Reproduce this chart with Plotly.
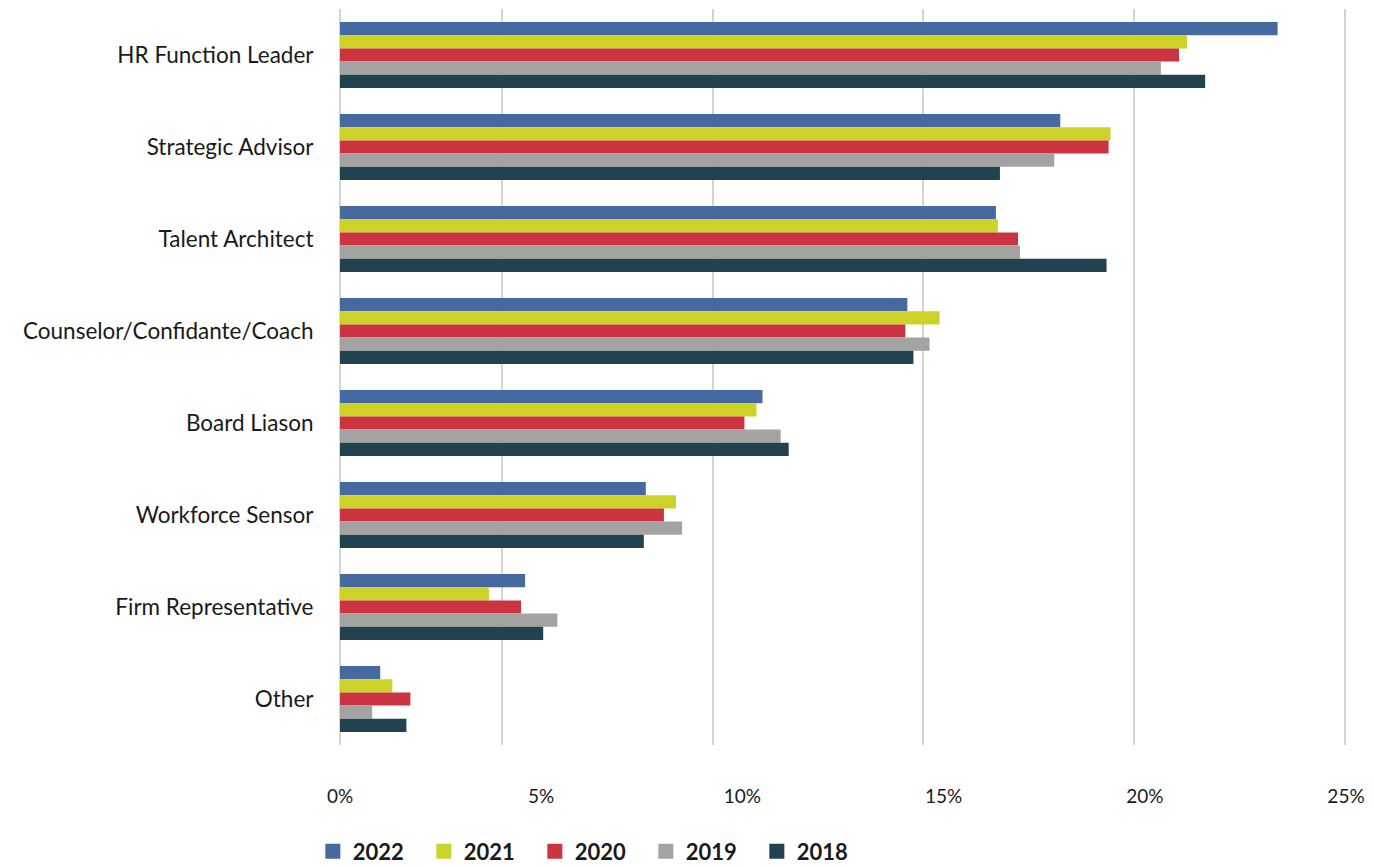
import plotly.graph_objects as go

# Roles of the HR leader, share of responses by survey year
roles = [
    "HR Function Leader",
    "Strategic Advisor",
    "Talent Architect",
    "Counselor/Confidante/Coach",
    "Board Liason",
    "Workforce Sensor",
    "Firm Representative",
    "Other",
]

years = ["2022", "2021", "2020", "2019", "2018"]

share_2022 = [23.3, 17.9, 16.3, 14.1, 10.5, 7.6, 4.6, 1.0]
share_2021 = [21.05, 19.15, 16.35, 14.9, 10.35, 8.35, 3.7, 1.3]
share_2020 = [20.85, 19.1, 16.85, 14.05, 10.05, 8.05, 4.5, 1.75]
share_2019 = [20.4, 17.75, 16.9, 14.65, 10.95, 8.5, 5.4, 0.8]
share_2018 = [21.5, 16.4, 19.05, 14.25, 11.15, 7.55, 5.05, 1.65]

x_tick_values = [0, 5, 10, 15, 20, 25]
x_tick_labels = ["0%", "5%", "10%", "15%", "20%", "25%"]

series = [share_2022, share_2021, share_2020, share_2019, share_2018]
colors = ["#46699f", "#ccd227", "#cd3442", "#a3a3a2", "#21424e"]

FONT = "Lato, 'Open Sans', sans-serif"

fig = go.Figure()
for year, values, color in zip(years, series, colors):
    fig.add_trace(
        go.Bar(
            y=roles,
            x=values,
            name=year,
            orientation="h",
            marker=dict(color=color, line=dict(width=0)),
            hoverinfo="x+name",
            showlegend=False,
            legendgroup=year,
        )
    )

# Legend keys: larger square swatches than the default bar keys
for year, color in zip(years, colors):
    fig.add_trace(
        go.Scatter(
            x=[None],
            y=[None],
            mode="markers",
            name=year,
            legendgroup=year,
            marker=dict(symbol="square", size=15, color=color),
            hoverinfo="skip",
        )
    )

# Light vertical guide lines drawn from an overlaid axis
fig.add_trace(
    go.Scatter(x=[None], y=[None], xaxis="x2", showlegend=False, hoverinfo="skip")
)

fig.update_layout(
    width=1374,
    height=867,
    margin=dict(l=340, r=28, t=9, b=122, autoexpand=False),
    paper_bgcolor="white",
    plot_bgcolor="white",
    barmode="group",
    bargap=0.28,
    bargroupgap=0,
    font=dict(family=FONT, color="#1a1a1a"),
    xaxis=dict(
        range=[0, 25],
        tickvals=x_tick_values,
        ticktext=x_tick_labels,
        showgrid=False,
        zeroline=True,
        zerolinecolor="#d4d4d4",
        zerolinewidth=1.5,
        ticks="outside",
        ticklen=34,
        tickcolor="rgba(0,0,0,0)",
        tickfont=dict(size=19, color="#1a1a1a"),
        showline=False,
        fixedrange=True,
    ),
    xaxis2=dict(
        overlaying="x",
        side="bottom",
        range=[0, 25],
        tick0=4.03,
        dtick=5.235,
        showticklabels=False,
        showgrid=True,
        gridcolor="#d4d4d4",
        gridwidth=1.5,
        zeroline=False,
        showline=False,
        fixedrange=True,
    ),
    yaxis=dict(
        categoryorder="array",
        categoryarray=roles,
        autorange="reversed",
        showgrid=False,
        ticks="outside",
        ticklen=21,
        tickcolor="rgba(0,0,0,0)",
        tickfont=dict(size=22.5, color="#1a1a1a"),
        showline=False,
        fixedrange=True,
    ),
    legend=dict(
        orientation="h",
        x=-0.027,
        xanchor="left",
        y=-0.116,
        yanchor="top",
        traceorder="normal",
        font=dict(size=22, color="#1a1a1a", family=FONT, weight="bold"),
        entrywidth=66,
        itemclick=False,
        itemdoubleclick=False,
    ),
    showlegend=True,
)

fig.write_html("out.html")
